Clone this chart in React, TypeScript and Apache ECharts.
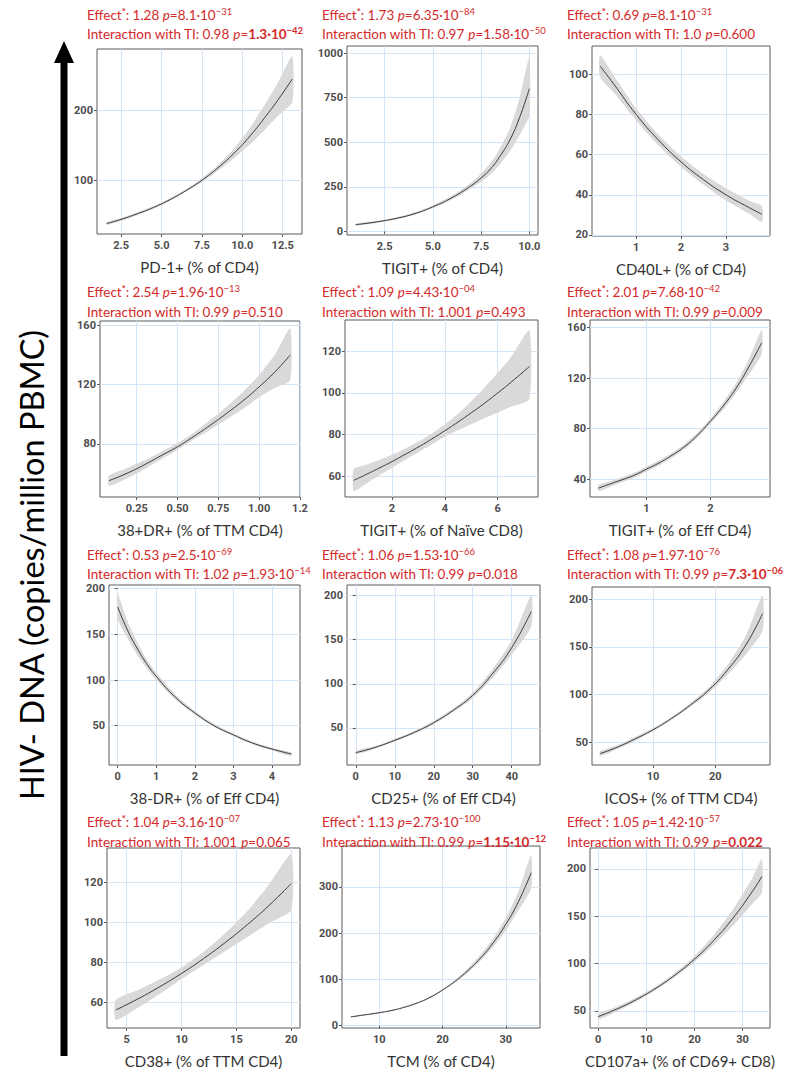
import React, { useEffect, useRef } from "react";
import * as echarts from "echarts";

// ---------------- data ----------------
const pd1X = [1.6, 2.5, 3.5, 4.5, 5.5, 6.5, 7.5, 8.5, 9.5, 10.5, 11.5, 12.3, 13.1];
const pd1Fit = [38, 44, 52, 61, 72, 85, 100, 118, 139, 164, 193, 218, 245];
const pd1Lo = [36, 42, 50, 59, 70, 83, 97, 114, 132, 152, 175, 194, 212];
const pd1Hi = [40, 46, 54, 63, 74, 87, 103, 122, 146, 176, 212, 244, 278];

const tigitX = [1, 2, 3, 4, 5, 6, 7, 7.5, 8, 8.5, 9, 9.5, 10];
const tigitFit = [38, 52, 71, 98, 138, 190, 258, 300, 352, 425, 515, 640, 800];
const tigitLo = [32, 46, 65, 91, 130, 179, 242, 278, 322, 380, 450, 540, 650];
const tigitHi = [44, 58, 77, 105, 146, 201, 275, 325, 385, 470, 580, 750, 975];

const cd40X = [0.2, 0.5, 1, 1.5, 2, 2.5, 3, 3.5, 3.8];
const cd40Fit = [104, 95.2, 80, 67.2, 56.4, 47.5, 40, 33.8, 30.3];
const cd40Lo = [98.5, 91, 77, 64.5, 53.8, 45, 37.2, 30.8, 26.5];
const cd40Hi = [109.5, 99.5, 83, 69.8, 59, 50.3, 43.2, 37.2, 34.5];

const drX = [0.08, 0.2, 0.3, 0.4, 0.5, 0.6, 0.7, 0.8, 0.9, 1.0, 1.1, 1.19];
const drFit = [55, 60.5, 66, 72, 78, 85, 92.5, 100.5, 109, 118.5, 129, 140];
const drLo = [51.5, 57, 63, 69.5, 76, 83, 89.5, 96.5, 103.5, 111.5, 118, 123];
const drHi = [58.5, 64, 69, 74.5, 80.5, 87.5, 96, 105, 115, 126.5, 141, 158];

const naiveX = [0.55, 1, 1.5, 2, 2.5, 3, 3.5, 4, 4.5, 5, 5.5, 6, 6.5, 7.2];
const naiveFit = [58, 60.7, 63.8, 67, 70.5, 74, 77.8, 81.8, 86, 90.4, 95, 99.9, 105, 112.6];
const naiveLo = [53, 56.3, 60.2, 64, 67.9, 71.5, 75.2, 78.9, 82, 84.9, 87.8, 90.6, 93.3, 97];
const naiveHi = [63.5, 65.4, 67.8, 70.3, 73.2, 76.6, 80.4, 84.8, 90, 96, 102.5, 109.5, 117, 130];

const effX = [0.25, 0.5, 0.8, 1.0, 1.2, 1.4, 1.6, 1.8, 2.0, 2.2, 2.4, 2.6, 2.8];
const effFit = [33, 37.5, 43, 48, 53, 59, 66, 75, 86, 98, 112, 129, 148];
const effLo = [30.5, 35.5, 41, 46, 51, 57, 64, 73, 84, 95, 108, 123, 139];
const effHi = [35.5, 39.5, 45, 50, 55, 61, 68, 77, 88, 101, 116, 135, 158];

const dr38X = [0, 0.25, 0.5, 0.75, 1, 1.5, 2, 2.5, 3, 3.5, 4, 4.5];
const dr38Fit = [180, 155, 135, 118, 104, 81, 64, 50, 40, 31, 24.5, 19];
const dr38Lo = [167, 146, 128, 113, 100, 78.5, 62, 48.5, 38.5, 29.5, 23, 17];
const dr38Hi = [194, 165, 142, 123, 108, 84, 66, 52, 41.5, 32.5, 26, 21];

const cd25X = [0, 5, 10, 15, 20, 25, 30, 35, 40, 45];
const cd25Fit = [22, 28, 36, 45, 56, 70, 87, 111, 141, 182];
const cd25Lo = [20, 26.5, 34.5, 43.5, 54, 68, 84, 106, 133, 165];
const cd25Hi = [24, 29.5, 37.5, 46.5, 58, 72, 90, 116, 149, 200];

const icosX = [1.5, 4, 7, 10, 13, 16, 19, 22, 25, 27.6];
const icosFit = [38, 44, 53, 63, 75, 89, 105, 126, 153, 185];
const icosLo = [35.5, 42, 51, 61.5, 73.5, 87, 102, 121, 143, 167];
const icosHi = [40.5, 46, 55, 64.5, 76.5, 91, 108, 131, 163, 204];

const cd38X = [4, 6, 8, 10, 12, 14, 16, 18, 20];
const cd38Fit = [56, 61.5, 67.6, 74.3, 81.7, 89.8, 98.7, 108.4, 119.2];
const cd38Lo = [51, 57, 64, 71.5, 78.5, 85.5, 92.5, 99.5, 106];
const cd38Hi = [61, 66, 71.3, 77.3, 85, 94.5, 105.5, 119, 134];

const tcmX = [5.5, 8, 10, 12, 14, 16, 18, 20, 22, 24, 26, 28, 30, 32, 34];
const tcmFit = [19, 24, 28, 33, 40, 49, 61, 77, 96, 119, 146, 179, 219, 268, 330];
const tcmLo = [17.5, 22.5, 26.5, 31.5, 38.5, 47.5, 59, 75, 93, 114.5, 140, 170, 206, 249, 296];
const tcmHi = [20.5, 25.5, 29.5, 34.5, 41.5, 50.5, 63, 79, 99, 124, 153, 188, 233, 290, 368];

const cd107X = [0, 4, 8, 12, 16, 20, 24, 28, 32, 34];
const cd107Fit = [44, 52.3, 62.2, 74, 88, 104.6, 124.4, 147.9, 175.9, 191.8];
const cd107Lo = [41, 49.8, 60, 72, 86, 101.5, 119.5, 140, 163, 175];
const cd107Hi = [47, 54.8, 64.4, 76, 90.2, 108, 130, 157, 190, 210];

const xTitles = [
  "PD-1+ (% of CD4)", "TIGIT+ (% of CD4)", "CD40L+ (% of CD4)",
  "38+DR+ (% of TTM CD4)", "TIGIT+ (% of Naïve CD8)", "TIGIT+ (% of Eff CD4)",
  "38-DR+ (% of Eff CD4)", "CD25+ (% of Eff CD4)", "ICOS+ (% of TTM CD4)",
  "CD38+ (% of TTM CD4)", "TCM (% of CD4)", "CD107a+ (% of CD69+ CD8)",
];

const xTickVals = [
  [2.5, 5, 7.5, 10, 12.5], [2.5, 5, 7.5, 10], [1, 2, 3],
  [0.25, 0.5, 0.75, 1, 1.25], [2, 4, 6], [1, 2],
  [0, 1, 2, 3, 4], [0, 10, 20, 30, 40], [10, 20],
  [5, 10, 15, 20], [10, 20, 30], [0, 10, 20, 30],
];
const xTickText = [
  ["2.5", "5.0", "7.5", "10.0", "12.5"], ["2.5", "5.0", "7.5", "10.0"], ["1", "2", "3"],
  ["0.25", "0.50", "0.75", "1.00", "1.2"], ["2", "4", "6"], ["1", "2"],
  ["0", "1", "2", "3", "4"], ["0", "10", "20", "30", "40"], ["10", "20"],
  ["5", "10", "15", "20"], ["10", "20", "30"], ["0", "10", "20", "30"],
];
const yTickVals = [
  [100, 200], [0, 250, 500, 750, 1000], [20, 40, 60, 80, 100],
  [80, 120, 160], [60, 80, 100, 120], [40, 80, 120, 160],
  [50, 100, 150, 200], [50, 100, 150, 200], [50, 100, 150, 200],
  [60, 80, 100, 120], [0, 100, 200, 300], [50, 100, 150, 200],
];
const xRanges = [
  [1.0, 13.7], [0.55, 10.45], [0.02, 3.98],
  [0.025, 1.25], [0.22, 7.53], [0.12, 2.93],
  [-0.225, 4.725], [-2.25, 47.25], [0.2, 28.8],
  [3.2, 20.8], [4.1, 35.4], [-1.7, 35.7],
];
const yRanges = [
  [23, 288], [-20, 1040], [19.5, 114],
  [44, 163], [50, 135], [26, 166],
  [7, 204], [8, 212], [26, 213],
  [47, 137], [-5, 388], [32, 222],
];

const effectVals = ["1.28", "1.73", "0.69", "2.54", "1.09", "2.01", "0.53", "1.06", "1.08", "1.04", "1.13", "1.05"];
const effectMant = ["8.1", "6.35", "8.1", "1.96", "4.43", "7.68", "2.5", "1.53", "1.97", "3.16", "2.73", "1.42"];
const effectExp = ["−31", "−84", "−31", "−13", "−04", "−42", "−69", "−66", "−76", "−07", "−100", "−57"];
const interVals = ["0.98", "0.97", "1.0", "0.99", "1.001", "0.99", "1.02", "0.99", "0.99", "1.001", "0.99", "0.99"];
const interMant = ["1.3", "1.58", "0.600", "0.510", "0.493", "0.009", "1.93", "0.018", "7.3", "0.065", "1.15", "0.022"];
const interExp = ["−42", "−50", "", "", "", "", "−14", "", "−06", "", "−12", ""];
const interBold = [true, false, false, false, false, false, false, false, true, false, true, true];

const yLabel = "HIV- DNA (copies/million PBMC)";

// ---------------- layout ----------------
const panels = [
  [pd1X, pd1Fit, pd1Lo, pd1Hi], [tigitX, tigitFit, tigitLo, tigitHi], [cd40X, cd40Fit, cd40Lo, cd40Hi],
  [drX, drFit, drLo, drHi], [naiveX, naiveFit, naiveLo, naiveHi], [effX, effFit, effLo, effHi],
  [dr38X, dr38Fit, dr38Lo, dr38Hi], [cd25X, cd25Fit, cd25Lo, cd25Hi], [icosX, icosFit, icosLo, icosHi],
  [cd38X, cd38Fit, cd38Lo, cd38Hi], [tcmX, tcmFit, tcmLo, tcmHi], [cd107X, cd107Fit, cd107Lo, cd107Hi],
];

const boxes = [
  { l: 97, t: 49, w: 205, h: 185 }, { l: 347, t: 46, w: 191, h: 189 }, { l: 592, t: 46, w: 178, h: 190 },
  { l: 100, t: 321, w: 200, h: 176 }, { l: 345, t: 320, w: 193, h: 177 }, { l: 590, t: 320, w: 180, h: 177 },
  { l: 109, t: 585, w: 191, h: 180 }, { l: 347, t: 585, w: 193, h: 180 }, { l: 592, t: 587, w: 178, h: 178 },
  { l: 107, t: 848, w: 193, h: 180 }, { l: 342, t: 846, w: 198, h: 182 }, { l: 590, t: 848, w: 180, h: 180 },
];
const headX = [87, 322, 567];
const headY = [[15, 34], [292, 312], [555, 574], [822, 842]];

const HEAD_FONT = 'Lato, "Liberation Sans", sans-serif';
const TICK_FONT = 'Roboto, "Liberation Sans", sans-serif';
const RED = "#d42a2a";

function buildOption() {
  const grid: any[] = [];
  const xAxis: any[] = [];
  const yAxis: any[] = [];
  const series: any[] = [];
  const graphic: any[] = [];

  panels.forEach((p, i) => {
    const b = boxes[i];
    grid.push({
      left: b.l, top: b.t, width: b.w, height: b.h,
      show: true, borderColor: "#5a5a5a", borderWidth: 1, backgroundColor: "#ffffff",
    });
    const xt = xTickVals[i];
    const xl = xTickText[i];
    xAxis.push({
      type: "value", gridIndex: i, min: xRanges[i][0], max: xRanges[i][1],
      axisLine: { show: false },
      axisTick: { show: true, customValues: xt, length: 3, lineStyle: { color: "#5a5a5a" } },
      axisLabel: {
        customValues: xt, margin: 6, color: "#4d4d4d", fontSize: 11, fontWeight: "bold", fontFamily: TICK_FONT,
        formatter: (v: number) => {
          const k = xt.findIndex((t) => Math.abs(t - v) < 1e-9);
          return k >= 0 ? xl[k] : "";
        },
      },
      splitLine: { show: true, lineStyle: { color: "#d3e4f5", width: 1 } },
      name: xTitles[i], nameLocation: "middle", nameGap: 25,
      nameTextStyle: { fontSize: 15, color: "#333333", fontFamily: HEAD_FONT },
    });
    const yt = yTickVals[i];
    yAxis.push({
      type: "value", gridIndex: i, min: yRanges[i][0], max: yRanges[i][1],
      axisLine: { show: false },
      axisTick: { show: true, customValues: yt, length: 3, lineStyle: { color: "#5a5a5a" } },
      axisLabel: {
        customValues: yt, margin: 4, color: "#4d4d4d", fontSize: 11, fontWeight: "bold", fontFamily: TICK_FONT,
        formatter: (v: number) => String(v),
      },
      splitLine: { show: true, lineStyle: { color: "#d3e4f5", width: 1 } },
    });
    const [xs, fit, lo, hi] = p as number[][];
    series.push({
      type: "custom", xAxisIndex: i, yAxisIndex: i, z: 2, clip: true,
      data: xs.map((x, k) => [x, lo[k], hi[k]]),
      renderItem: (params: any, api: any) => {
        if (params.dataIndex !== 0) return null;
        const top = xs.map((x, k) => api.coord([x, hi[k]]));
        const bot = xs.map((x, k) => api.coord([x, lo[k]])).reverse();
        return {
          type: "polygon",
          shape: { points: top.concat(bot), smooth: 0.2 },
          style: { fill: "#d9d9d9", stroke: "none" },
        };
      },
    });
    series.push({
      type: "line", xAxisIndex: i, yAxisIndex: i, smooth: true,
      data: xs.map((x, k) => [x, fit[k]]), symbol: "none",
      lineStyle: { color: "#3a3a3a", width: 1 }, z: 3,
    });

    // headers
    const col = i % 3;
    const row = Math.floor(i / 3);
    const rich = {
      r: { fontSize: 13.5, fill: RED, fontFamily: HEAD_FONT, lineHeight: 18 },
      i: { fontSize: 13.5, fill: RED, fontFamily: HEAD_FONT, fontStyle: "italic", lineHeight: 18 },
      b: { fontSize: 13.5, fill: RED, fontFamily: HEAD_FONT, fontWeight: "bold", lineHeight: 18 },
      s: { fontSize: 9.5, fill: RED, fontFamily: HEAD_FONT, verticalAlign: "top", lineHeight: 11 },
      sb: { fontSize: 9.5, fill: RED, fontFamily: HEAD_FONT, fontWeight: "bold", verticalAlign: "top", lineHeight: 11 },
    };
    const eff = `{r|Effect}{sb|*}{r|: ${effectVals[i]} }{i|p}{r|=${effectMant[i]}·10}{s|${effectExp[i]}}`;
    let pv: string;
    if (interExp[i]) {
      pv = interBold[i]
        ? `{b|${interMant[i]}·10}{sb|${interExp[i]}}`
        : `{r|${interMant[i]}·10}{s|${interExp[i]}}`;
    } else {
      pv = interBold[i] ? `{b|${interMant[i]}}` : `{r|${interMant[i]}}`;
    }
    const inter = `{r|Interaction with TI: ${interVals[i]} }{i|p}{r|=}` + pv;
    graphic.push({
      type: "text", x: headX[col], y: headY[row][0], z: 10,
      style: { text: eff, rich, fill: RED, font: `13.5px ${HEAD_FONT}`, verticalAlign: "middle", align: "left" },
    });
    graphic.push({
      type: "text", x: headX[col], y: headY[row][1], z: 10,
      style: { text: inter, rich, fill: RED, font: `13.5px ${HEAD_FONT}`, verticalAlign: "middle", align: "left" },
    });
  });

  // big arrow + label
  graphic.push({
    type: "line", z: 20,
    shape: { x1: 64, y1: 1056, x2: 64, y2: 58 },
    style: { stroke: "#000000", lineWidth: 7 },
  });
  graphic.push({
    type: "polygon", z: 20,
    shape: { points: [[64, 41], [54, 63], [74, 63]] },
    style: { fill: "#000000" },
  });
  graphic.push({
    type: "text", x: 31, y: 565, rotation: Math.PI / 2, z: 20,
    style: {
      text: yLabel, fontSize: 32.5, fontFamily: HEAD_FONT, fill: "#000000",
      align: "center", verticalAlign: "middle",
    },
  });

  return {
    animation: false,
    backgroundColor: "#ffffff",
    grid, xAxis, yAxis, series, graphic,
  };
}

export default function App() {
  const ref = useRef<HTMLDivElement>(null);
  useEffect(() => {
    if (!ref.current) return;
    const chart = echarts.init(ref.current, null, { renderer: "svg" });
    chart.setOption(buildOption() as any);
    return () => chart.dispose();
  }, []);
  return (
    <div
      ref={ref}
      style={{ position: "absolute", left: 0, top: 0, width: 785, height: 1072, background: "#fff" }}
    />
  );
}
